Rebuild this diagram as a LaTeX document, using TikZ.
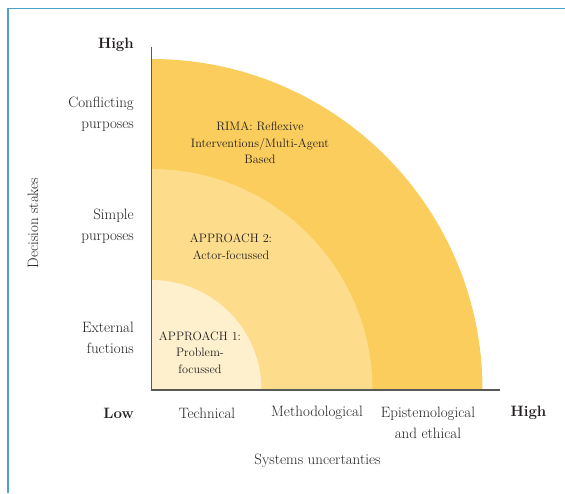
\documentclass[tikz,border=0pt]{standalone}
\usepackage{tikz}
\definecolor{ringout}{RGB}{251,205,92}
\definecolor{ringmid}{RGB}{253,220,140}
\definecolor{ringin}{RGB}{254,240,205}
\definecolor{framecol}{RGB}{75,163,199}
\definecolor{txt}{RGB}{35,31,32}

\begin{document}
\begin{tikzpicture}[x=1pt,y=-1pt]
        \tikzstyle{lab}=[text=txt,font=\fontsize{15}{21}\selectfont,align=center,inner sep=0pt]
        \tikzstyle{rlab}=[lab,anchor=east,align=right]
        \tikzstyle{blab}=[lab,font=\fontsize{15}{21}\selectfont\bfseries]
        \tikzstyle{inlab}=[lab,font=\fontsize{12.2}{16.5}\selectfont]

        \useasboundingbox (0,0) rectangle (565,493);

        % frame
        \draw[framecol,line width=1.5pt] (8,493) -- (8,8.6) -- (565,8.6);

        % quarter rings
        \coordinate (o) at (151.5,390);
        \fill[ringout] (o) -- ++(331,0) arc[start angle=0,end angle=90,radius=331pt] -- cycle;
        \fill[ringmid] (o) -- ++(221,0) arc[start angle=0,end angle=90,radius=221pt] -- cycle;
        \fill[ringin] (o) -- ++(110,0) arc[start angle=0,end angle=90,radius=110pt] -- cycle;

        % axes
        \coordinate (ytop) at (151.5,47);
        \coordinate (xend) at (500,390);
        \draw[black!65,line width=1.5pt] (ytop) -- (o) -- (xend);

        % vertical labels
        \node[blab,anchor=east](yhigh) at (134,45){High};
        \node[rlab](conf) at (134,114.5){Conflicting\\purposes};
        \node[rlab](simple) at (134,226.5){Simple\\purposes};
        \node[rlab](ext) at (134,338){External\\fuctions};
        \node[lab,rotate=90](ystakes) at (33,223){Decision stakes};

        % horizontal labels
        \node[blab,anchor=east](xlow) at (134,413){Low};
        \node[lab](tech) at (207,413){Technical};
        \node[lab](meth) at (317,413){Methodological};
        \node[lab](epis) at (428,422.5){Epistemological\\and ethical};
        \node[blab](xhigh) at (528.5,413){High};
        \node[lab](xunc) at (317.5,461){Systems uncertanties};

        % ring labels
        \node[inlab](rima) at (260,143){RIMA: Reflexive\\Interventions/Multi-Agent\\Based};
        \node[inlab](app2) at (231,246.5){APPROACH 2:\\Actor-focussed};
        \node[inlab](app1) at (200,352.5){APPROACH 1:\\Problem-\\focussed};

    \end{tikzpicture}
\end{document}
